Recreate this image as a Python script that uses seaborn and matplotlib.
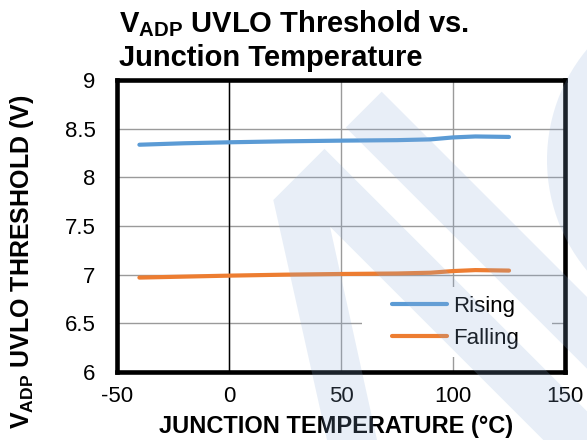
import numpy as np
import pandas as pd
import matplotlib
matplotlib.use("Agg")
import matplotlib.pyplot as plt
import seaborn as sns
from matplotlib.patches import Polygon, Ellipse, Rectangle

# ---------------- data ----------------
temperature = [-40, -20, 0, 25, 50, 75, 90, 100, 110, 125]
rising = [8.335, 8.350, 8.360, 8.370, 8.377, 8.382, 8.390, 8.410, 8.420, 8.415]
falling = [6.970, 6.980, 6.990, 7.000, 7.007, 7.012, 7.020, 7.037, 7.047, 7.042]
series_names = ["Rising", "Falling"]
series_colors = ["#5b9bd5", "#ed7d31"]
x_ticks = [-50, 0, 50, 100, 150]
y_ticks = [6, 6.5, 7, 7.5, 8, 8.5, 9]
y_tick_labels = ["6", "6.5", "7", "7.5", "8", "8.5", "9"]

df = pd.DataFrame({
    "temp": temperature * 2,
    "value": rising + falling,
    "series": [series_names[0]] * len(temperature) + [series_names[1]] * len(temperature),
})

sns.set_style("white")
plt.rcParams["font.family"] = ["Liberation Sans", "DejaVu Sans"]
plt.rcParams["mathtext.fontset"] = "custom"
plt.rcParams["mathtext.rm"] = "Liberation Sans"
plt.rcParams["mathtext.bf"] = "Liberation Sans:bold"
plt.rcParams["axes.unicode_minus"] = False
for k in ("text.color", "axes.labelcolor", "xtick.color", "ytick.color"):
    plt.rcParams[k] = "black"

W, H = 587, 440
fig = plt.figure(figsize=(W / 100, H / 100), dpi=100)
ax = fig.add_axes([117 / W, 1 - 372 / H, (565 - 117) / W, (372 - 80) / H])
ax.set_facecolor("white")

sns.lineplot(data=df, x="temp", y="value", hue="series", palette=series_colors,
             linewidth=3, ax=ax, solid_capstyle="round", zorder=3)

ax.set_xlim(-50, 150)
ax.set_ylim(6, 9)
ax.set_xticks(x_ticks)
ax.set_xticklabels([str(t) for t in x_ticks])
ax.set_yticks(y_ticks)
ax.set_yticklabels(y_tick_labels)
ax.grid(True, color="#9a9a9a", linewidth=1.0)
ax.axvline(0, color="black", linewidth=1.0, zorder=1.6)
ax.tick_params(axis="both", length=0, labelsize=16, colors="black")
ax.tick_params(axis="y", pad=15.5)
ax.tick_params(axis="x", pad=10)
ax.set_xlabel("")
ax.set_ylabel("")
for s in ax.spines.values():
    s.set_visible(True)
    s.set_color("black")
    s.set_linewidth(3.3)

# white block behind legend (interrupts gridlines)
ax.add_patch(Rectangle((0.547, 0.051), 0.424, 0.240, transform=ax.transAxes,
                       facecolor="white", edgecolor="none", zorder=1.8))

handles, labels = ax.get_legend_handles_labels()
leg = ax.legend(handles, labels, frameon=False, loc="center left",
                bbox_to_anchor=(0.614, 0.171), borderpad=0, borderaxespad=0,
                handlelength=2.48, handletextpad=0.25, labelspacing=0.5, fontsize=16)
for t in leg.get_texts():
    t.set_color("black")

# titles and axis labels
fig.text(119 / W, 1 - 32.5 / H, r"$\mathbf{V_{ADP}}$ UVLO Threshold vs.",
         fontsize=21, fontweight="bold", ha="left", va="baseline", color="black")
fig.text(119 / W, 1 - 66 / H, "Junction Temperature",
         fontsize=21, fontweight="bold", ha="left", va="baseline", color="black")
fig.text(22 / W, 1 - 262 / H, r"$\mathbf{V_{ADP}}$ UVLO THRESHOLD (V)",
         fontsize=18, fontweight="bold", rotation=90, ha="center", va="center", color="black")
fig.text(336 / W, 1 - 426 / H, "JUNCTION TEMPERATURE (°C)",
         fontsize=17, fontweight="bold", ha="center", va="center", color="black")

# light watermark overlay
def fp(pts):
    return [(x / W, 1 - y / H) for x, y in pts]

wm = (0.55, 0.68, 0.85, 0.2)
polyA = fp([(345.8, 127.5), (381.7, 91.7), (587, 297), (587, 368.7)])
polyB = fp([(324.5, 148.8), (273.3, 200), (327, 440), (377, 440), (330, 226.7),
            (543.3, 440), (587, 440), (587, 411.3)])
for p in (polyA, polyB):
    fig.add_artist(Polygon(p, closed=True, transform=fig.transFigure,
                           facecolor=wm, edgecolor="none", zorder=10))
fig.add_artist(Ellipse((720 / W, 1 - 160 / H), 2 * 173 / W, 2 * 173 / H,
                       transform=fig.transFigure, facecolor=wm, edgecolor="none", zorder=10))

fig.savefig("out.png", dpi=100)
